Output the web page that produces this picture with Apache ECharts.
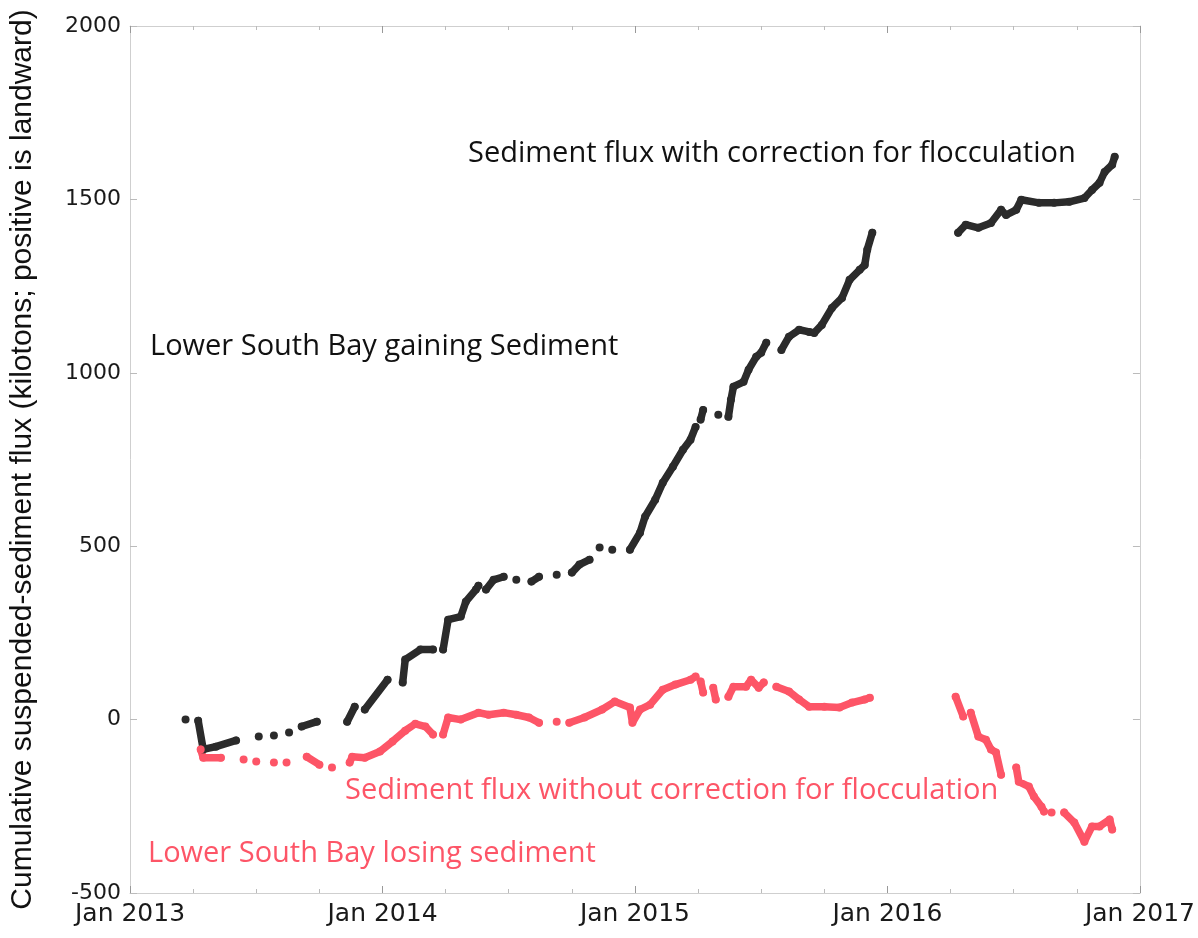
<!DOCTYPE html>
<html>
<head>
<meta charset="utf-8">
<script src="https://cdn.jsdelivr.net/npm/echarts@6/dist/echarts.min.js"></script>
<style>
html,body{margin:0;padding:0;background:#fff;}
#chart{width:1198px;height:938px;}
</style>
</head>
<body>
<div id="chart"></div>
<script>
// ---- Data (decimal year, kilotons); null marks a gap in the record ----
var blackYears = [2013.22, null,
  2013.27, 2013.29, 2013.34, 2013.42, null, 2013.51, null, 2013.57, null, 2013.63, null, 2013.68, 2013.74, null,
  2013.86, 2013.89, null, 2013.93, 2014.02, null,
  2014.08, 2014.09, 2014.15, 2014.20, null,
  2014.24, 2014.26, 2014.31, 2014.33, 2014.37, 2014.38, null,
  2014.41, 2014.44, 2014.48, null, 2014.53, null, 2014.59, 2014.62, null, 2014.69, null,
  2014.75, 2014.78, 2014.82, null, 2014.86, null, 2014.91, null,
  2014.98, 2015.02, 2015.04, 2015.08, 2015.11, 2015.15, 2015.19, 2015.22, 2015.24, null,
  2015.26, 2015.27, null, 2015.33, null,
  2015.37, 2015.38, 2015.39, 2015.43, 2015.45, 2015.48, 2015.50, 2015.52, null,
  2015.58, 2015.61, 2015.65, 2015.69, 2015.71, 2015.74, 2015.78, 2015.82, 2015.85, 2015.89, 2015.91, 2015.92, 2015.94, null,
  2016.28, 2016.31, 2016.36, 2016.41, 2016.45, 2016.47, 2016.51, 2016.53, 2016.60, 2016.66, 2016.72, 2016.78, 2016.81, 2016.84, 2016.86, 2016.89, 2016.90];
var blackFlux = [0, null,
  -3, -86, -78, -60, null, -49, null, -46, null, -37, null, -20, -6, null,
  -6, 37, null, 29, 115, null,
  107, 173, 202, 202, null,
  202, 288, 297, 340, 375, 386, null,
  375, 403, 412, null, 403, null, 398, 412, null, 418, null,
  424, 447, 461, null, 496, null, 490, null,
  490, 539, 585, 634, 683, 729, 778, 807, 844, null,
  865, 893, null, 879, null,
  873, 922, 960, 974, 1009, 1046, 1058, 1087, null,
  1066, 1104, 1124, 1118, 1115, 1138, 1187, 1216, 1268, 1297, 1311, 1355, 1404, null,
  1404, 1427, 1418, 1432, 1470, 1455, 1470, 1499, 1490, 1490, 1493, 1504, 1527, 1548, 1579, 1600, 1623];

var redYears = [2013.28, 2013.29, 2013.36, null, 2013.45, null, 2013.50, null, 2013.57, null, 2013.62, null,
  2013.70, 2013.75, null, 2013.80, null, 2013.87, 2013.88, 2013.93, 2013.99, 2014.04, 2014.09, 2014.13, 2014.17, 2014.20, null,
  2014.24, 2014.26, 2014.31, 2014.38, 2014.42, 2014.48, 2014.53, 2014.58, 2014.62, null, 2014.69, null,
  2014.74, 2014.80, 2014.87, 2014.92, 2014.98, 2014.99, 2015.02, 2015.06, 2015.11, 2015.16, 2015.22, 2015.24, null,
  2015.26, 2015.27, null, 2015.31, 2015.32, null,
  2015.37, 2015.39, 2015.44, 2015.46, 2015.49, 2015.51, null,
  2015.56, 2015.61, 2015.65, 2015.69, 2015.75, 2015.81, 2015.86, 2015.91, 2015.93, null,
  2016.27, 2016.30, null, 2016.33, 2016.36, 2016.39, 2016.41, 2016.43, 2016.45, null,
  2016.51, 2016.52, 2016.56, 2016.58, 2016.61, 2016.62, null, 2016.65, null,
  2016.70, 2016.74, 2016.78, 2016.81, 2016.84, 2016.88, 2016.89];
var redFlux = [-86, -110, -110, null, -115, null, -121, null, -124, null, -124, null,
  -107, -130, null, -138, null, -124, -107, -110, -92, -63, -32, -12, -20, -43, null,
  -43, 6, 0, 20, 14, 20, 14, 6, -9, null, -6, null,
  -9, 6, 29, 52, 35, -9, 29, 43, 86, 101, 115, 124, null,
  110, 78, null, 92, 58, null,
  66, 95, 95, 115, 92, 107, null,
  95, 81, 58, 37, 37, 35, 49, 58, 63, null,
  66, 9, null, 20, -49, -58, -86, -95, -159, null,
  -138, -179, -193, -222, -251, -265, null, -268, null,
  -268, -297, -352, -308, -308, -288, -317];

var xTickYears = [2013, 2014, 2015, 2016, 2017];
var yTicks = [-500, 0, 500, 1000, 1500, 2000];

var yTitle = 'Cumulative suspended-sediment flux (kilotons; positive is landward)';
var labelWithCorr = 'Sediment flux with correction for flocculation';
var labelGaining = 'Lower South Bay gaining Sediment';
var labelWithoutCorr = 'Sediment flux without correction for flocculation';
var labelLosing = 'Lower South Bay losing sediment';

function pairs(xs, ys) {
  return xs.map(function (x, i) {
    return (x === null || ys[i] === null) ? ['-', '-'] : [x, ys[i]];
  });
}

var BLACK = '#2b2b2b';
var RED = '#fd5567';
var AXIS = '#cfcfcf';

var chart = echarts.init(document.getElementById('chart'));
var axisLabelX = {fontFamily: 'DejaVu Sans', fontSize: 25, color: '#1a1a1a', margin: 9,
  formatter: function (v) { return 'Jan ' + v; }};
var xCommon = {type: 'value', min: xTickYears[0], max: xTickYears[xTickYears.length - 1], interval: 1,
  splitLine: {show: false}, axisLine: {show: true, onZero: false, lineStyle: {color: AXIS, width: 1}},
  axisTick: {show: true, inside: true, length: 7, lineStyle: {color: '#999'}},
  minorTick: {show: true, splitNumber: 4, length: 4, lineStyle: {color: '#bbb'}}};
var yCommon = {type: 'value', min: yTicks[0], max: yTicks[yTicks.length - 1], interval: 500,
  splitLine: {show: false}, axisLine: {show: true, onZero: false, lineStyle: {color: AXIS, width: 1}},
  axisTick: {show: true, inside: true, length: 7, lineStyle: {color: '#bbb'}}};

chart.setOption({
  animation: false,
  backgroundColor: '#fff',
  grid: {left: 129, right: 58, top: 26, bottom: 45, containLabel: false},
  xAxis: [
    Object.assign({}, xCommon, {position: 'bottom', axisLabel: axisLabelX}),
    Object.assign({}, xCommon, {position: 'top', axisLabel: {show: false}})
  ],
  yAxis: [
    Object.assign({}, yCommon, {position: 'left',
      name: yTitle, nameLocation: 'middle', nameGap: 92, nameRotate: 90,
      nameTextStyle: {fontFamily: 'Liberation Sans', fontSize: 30, color: '#111'},
      axisLabel: {fontFamily: 'DejaVu Sans', fontSize: 22, color: '#1a1a1a', margin: 9,
        formatter: function (v) { return String(v); }}}),
    Object.assign({}, yCommon, {position: 'right', axisLabel: {show: false}})
  ],
  series: [
    {type: 'line', name: labelWithCorr, data: pairs(blackYears, blackFlux), connectNulls: false,
      showSymbol: true, symbol: 'circle', symbolSize: 8, itemStyle: {color: BLACK},
      lineStyle: {color: BLACK, width: 7.5, cap: 'round', join: 'round'}, z: 3},
    {type: 'line', name: labelWithoutCorr, data: pairs(redYears, redFlux), connectNulls: false,
      showSymbol: true, symbol: 'circle', symbolSize: 8, itemStyle: {color: RED},
      lineStyle: {color: RED, width: 7.5, cap: 'round', join: 'round'}, z: 3}
  ],
  graphic: [
    {type: 'text', left: 468, top: 139, style: {text: labelWithCorr, fill: '#111', font: '29px "Open Sans"'}},
    {type: 'text', left: 150, top: 332, style: {text: labelGaining, fill: '#111', font: '29px "Open Sans"'}},
    {type: 'text', left: 345, top: 776, style: {text: labelWithoutCorr, fill: RED, font: '29px "Open Sans"'}},
    {type: 'text', left: 148, top: 839, style: {text: labelLosing, fill: RED, font: '29px "Open Sans"'}}
  ]
});
</script>
</body>
</html>
